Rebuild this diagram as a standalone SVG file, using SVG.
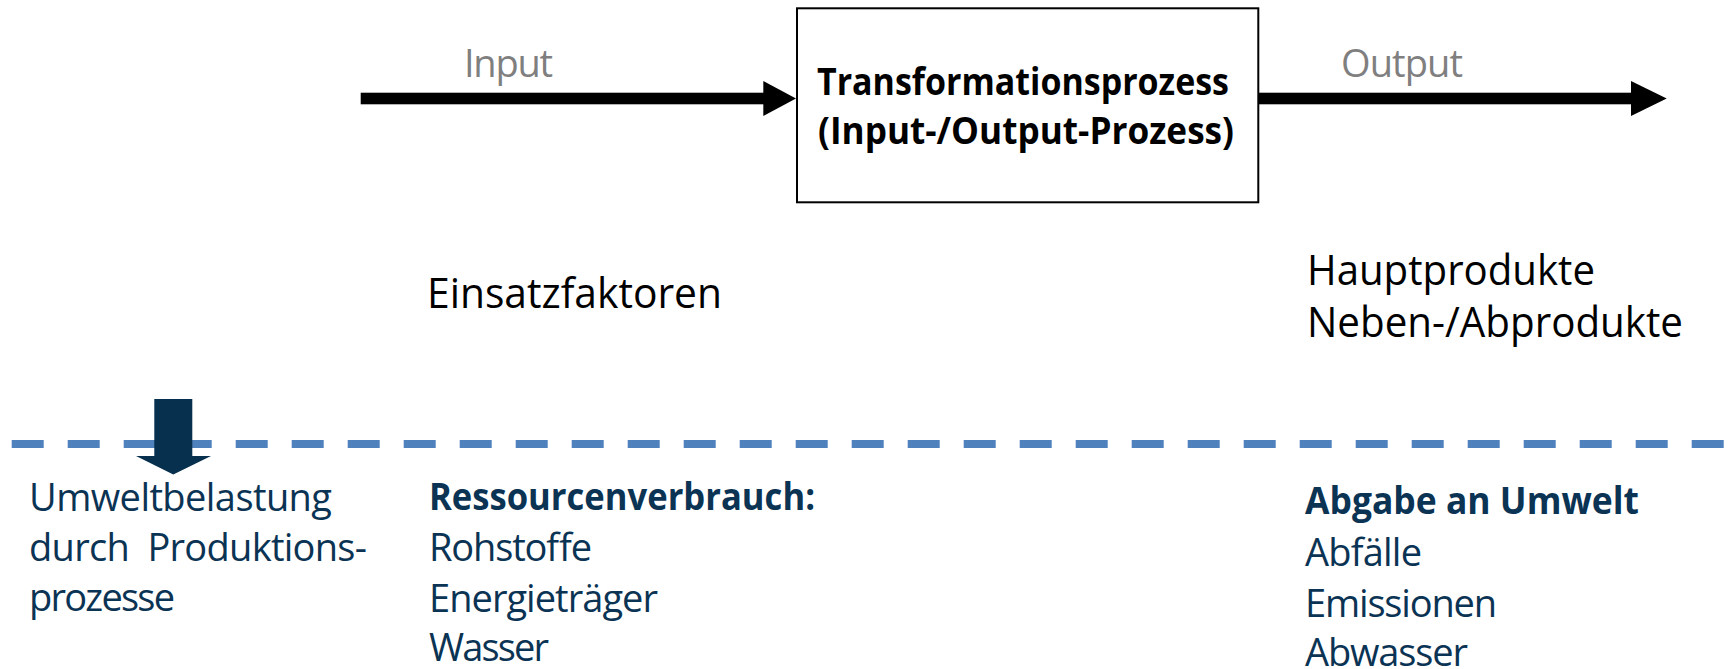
<svg xmlns="http://www.w3.org/2000/svg" width="1729" height="669" viewBox="0 0 1729 669">
<style>
text { font-family: "Open Sans", "Liberation Sans", sans-serif; font-size: 38px; }
.b { font-weight: bold; }
.gray { fill: #7F7F7F; }
.blk { fill: #000000; }
.big { font-size: 42px; }
.navy { fill: #0B3354; }
.pre { white-space: pre; }
</style>
<rect width="1729" height="669" fill="#FFFFFF"/>
<g id="connectors">
  <line x1="11.7" y1="444" x2="1729" y2="444" stroke="#4F81BD" stroke-width="8" stroke-dasharray="32 24"/>
  <g id="input-arrow">
    <rect x="360.7" y="92.7" width="404" height="11.6" fill="#000"/>
    <polygon points="763.3,81 796,98.5 763.3,116" fill="#000"/>
  </g>
  <g id="output-arrow">
    <rect x="1259" y="92.7" width="374" height="11.6" fill="#000"/>
    <polygon points="1631,81 1666.7,98.5 1631,116" fill="#000"/>
  </g>
  <polygon id="impact-arrow" points="154.3,399 192.3,399 192.3,456 211,456 173.3,474.5 136,456 154.3,456" fill="#07304F"/>
</g>
<g id="process">
  <rect x="797" y="8.3" width="461.3" height="194" fill="#FFFFFF" stroke="#000" stroke-width="2"/>
  <text class="b blk" x="817" y="95" textLength="412" lengthAdjust="spacingAndGlyphs">Transformationsprozess</text>
  <text class="b blk" x="818" y="144" textLength="416" lengthAdjust="spacingAndGlyphs">(Input-/Output-Prozess)</text>
</g>
<g id="input-label">
  <text class="gray" x="464" y="77" textLength="89">Input</text>
</g>
<g id="output-label">
  <text class="gray" x="1341" y="77" textLength="122">Output</text>
</g>
<g id="einsatzfaktoren">
  <text class="blk big" x="427" y="308" textLength="295" lengthAdjust="spacingAndGlyphs">Einsatzfaktoren</text>
</g>
<g id="produkte">
  <text class="blk big" x="1307" y="285" textLength="288" lengthAdjust="spacingAndGlyphs">Hauptprodukte</text>
  <text class="blk big" x="1307" y="337" textLength="376" lengthAdjust="spacingAndGlyphs">Neben-/Abprodukte</text>
</g>
<g id="umweltbelastung">
  <text class="navy" x="29" y="511" textLength="303">Umweltbelastung</text>
  <text class="navy pre" x="29" y="561" textLength="338">durch  Produktions-</text>
  <text class="navy" x="29" y="611" textLength="146">prozesse</text>
</g>
<g id="ressourcenverbrauch">
  <text class="navy b" x="429" y="510" textLength="386" lengthAdjust="spacingAndGlyphs">Ressourcenverbrauch:</text>
  <text class="navy" x="429" y="561" textLength="163">Rohstoffe</text>
  <text class="navy" x="429" y="612" textLength="229">Energieträger</text>
  <text class="navy" x="429" y="661" textLength="120">Wasser</text>
</g>
<g id="abgabe">
  <text class="navy b" x="1305" y="514" textLength="334" lengthAdjust="spacingAndGlyphs">Abgabe an Umwelt</text>
  <text class="navy" x="1305" y="566" textLength="117">Abfälle</text>
  <text class="navy" x="1305" y="617" textLength="192">Emissionen</text>
  <text class="navy" x="1305" y="666" textLength="163">Abwasser</text>
</g>
</svg>
